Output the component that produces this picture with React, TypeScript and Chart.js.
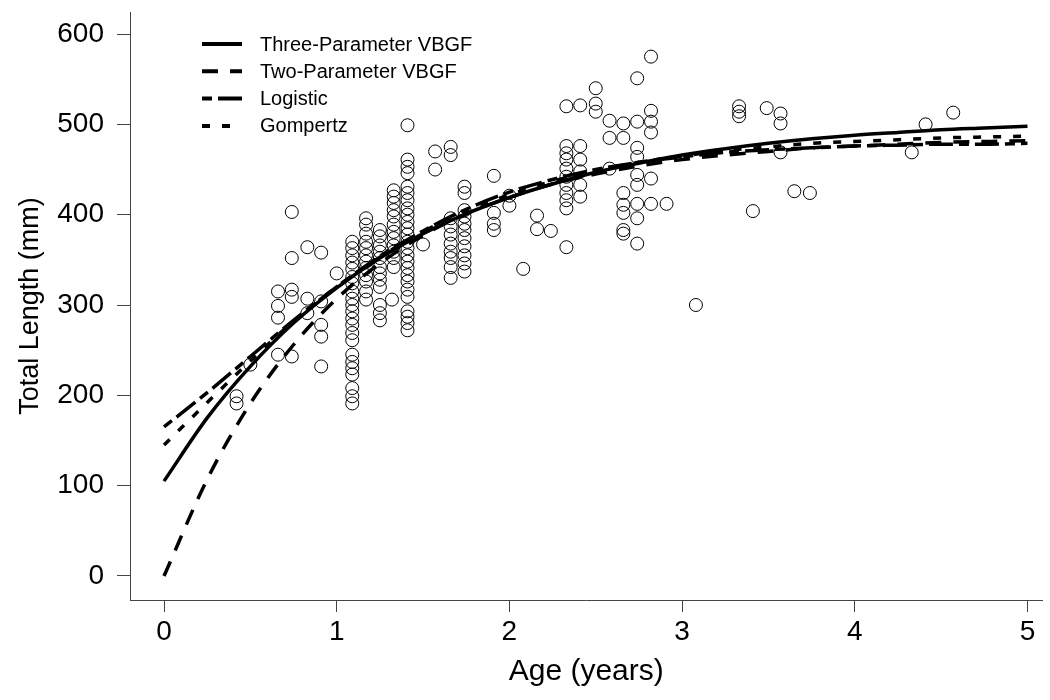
import React, { useEffect, useRef } from 'react';
import { Chart, registerables } from 'chart.js';

Chart.register(...registerables);

// ---- Data ----
const curveAge = [0, 0.25, 0.5, 0.75, 1, 1.25, 1.5, 1.75, 2, 2.25, 2.5, 2.75, 3, 3.25, 3.5, 3.75, 4, 4.25, 4.5, 4.75, 5];
const threeParamVBGF = [105, 175, 232, 280, 319, 352, 379, 401, 419, 434, 447, 457, 466, 473, 479, 484, 488, 491, 494, 496, 498];
const twoParamVBGF = [0, 107, 191, 256, 307, 346, 377, 401, 419, 434, 445, 454, 461, 466, 470, 474, 476, 478, 480, 481, 482];
const logisticFit = [165, 203, 243, 283, 320, 354, 382, 406, 425, 439, 450, 458, 464, 469, 472, 474, 476, 477, 478, 478, 479];
const gompertzFit = [145, 192, 238, 282, 320, 353, 381, 404, 422, 437, 449, 458, 465, 471, 475, 479, 481, 483, 485, 486, 487];

const seriesLabels = ['Three-Parameter VBGF', 'Two-Parameter VBGF', 'Logistic', 'Gompertz'];

// observed fish: age class and the total lengths measured at that age
const ageGroups = [0.42, 0.5, 0.66, 0.74, 0.83, 0.91, 1.0, 1.09, 1.17, 1.25, 1.32, 1.33, 1.41, 1.5, 1.57, 1.66, 1.74, 1.91, 2.0, 2.08, 2.16, 2.24, 2.33, 2.41, 2.5, 2.58, 2.66, 2.74, 2.82, 2.91, 3.08, 3.33, 3.41, 3.49, 3.57, 3.65, 3.74, 4.33, 4.41, 4.57];
const lengthGroups = [
  [199, 191],
  [234],
  [315, 299, 286, 245],
  [403, 352, 317, 309, 243],
  [364, 307, 291],
  [358, 304, 278, 265, 232],
  [335],
  [370, 363, 355, 347, 340, 331, 324, 315, 307, 300, 293, 285, 278, 269, 261, 245, 237, 230, 223, 208, 199, 191],
  [396, 389, 379, 370, 363, 355, 348, 341, 333, 326, 315, 306],
  [383, 376, 366, 359, 352, 342, 335, 328, 320, 300, 291, 283],
  [306],
  [427, 420, 413, 405, 398, 389, 381, 374, 366, 359, 352, 342],
  [499, 461, 453, 446, 431, 424, 416, 407, 400, 392, 385, 378, 370, 363, 355, 348, 341, 333, 326, 317, 309, 293, 287, 280, 272],
  [367],
  [470, 450],
  [475, 466, 396, 387, 378, 368, 359, 352, 342, 330],
  [431, 424, 405, 398, 390, 383, 374, 365, 355, 346, 337],
  [443, 402, 390, 383],
  [421, 410],
  [340],
  [399, 384],
  [382],
  [520, 476, 468, 461, 451, 442, 433, 424, 416, 407, 364],
  [521, 476, 461, 448, 433, 420],
  [540, 523, 514],
  [504, 485, 451],
  [501, 485, 424, 411, 402, 383, 379],
  [551, 503, 474, 464, 444, 433, 412, 396, 368],
  [575, 515, 503, 491, 440, 412],
  [412],
  [300],
  [520, 514, 509],
  [404],
  [518],
  [512, 501, 469],
  [426],
  [424],
  [469],
  [500],
  [513],
];

const xTicks = [0, 1, 2, 3, 4, 5];
const yTicks = [0, 100, 200, 300, 400, 500, 600];

const FONT = '"Liberation Sans", Arial, Helvetica, sans-serif';
const AXIS_COLOR = '#444';

const rLegend = {
  id: 'rLegend',
  afterDatasetsDraw(chart: any) {
    const { ctx, chartArea } = chart;
    const curves = chart.data.datasets.filter((d: any) => d.isCurve);
    ctx.save();
    curves.forEach((ds: any, i: number) => {
      const y = chartArea.top + 32 + i * 27.3;
      const x0 = chartArea.left + 72;
      ctx.beginPath();
      ctx.setLineDash(ds.borderDash || []);
      ctx.lineWidth = 4;
      ctx.lineCap = 'butt';
      ctx.strokeStyle = '#000';
      ctx.moveTo(x0, y);
      ctx.lineTo(x0 + 40, y);
      ctx.stroke();
      ctx.setLineDash([]);
      ctx.fillStyle = '#000';
      ctx.font = `20px ${FONT}`;
      ctx.textBaseline = 'middle';
      ctx.textAlign = 'left';
      ctx.fillText(ds.label, x0 + 58, y + 1);
    });
    ctx.restore();
  },
};

export default function App() {
  const canvasRef = useRef<HTMLCanvasElement | null>(null);

  useEffect(() => {
    if (!canvasRef.current) return;
    const toPts = (vals: number[]) => curveAge.map((t, i) => ({ x: t, y: vals[i] }));
    const obsPoints = ageGroups.flatMap((a, i) => lengthGroups[i].map((l) => ({ x: a, y: l })));
    const curveStyle = (label: string, vals: number[], dash: number[], order: number) => ({
      label,
      data: toPts(vals),
      showLine: true,
      isCurve: true,
      borderColor: '#000',
      borderWidth: 3.5,
      borderDash: dash,
      pointRadius: 0,
      cubicInterpolationMode: 'monotone',
      fill: false,
      order,
    });

    const chart = new Chart(canvasRef.current, {
      type: 'scatter',
      data: {
        datasets: [
          curveStyle(seriesLabels[0], threeParamVBGF, [], 1),
          curveStyle(seriesLabels[1], twoParamVBGF, [16, 12], 2),
          curveStyle(seriesLabels[2], logisticFit, [10, 6, 24, 6], 3),
          curveStyle(seriesLabels[3], gompertzFit, [8, 12], 4),
          {
            label: 'Observed',
            data: obsPoints,
            showLine: false,
            pointRadius: 6.5,
            pointBorderWidth: 1,
            pointBorderColor: '#000',
            pointBackgroundColor: 'rgba(0,0,0,0)',
            borderColor: '#000',
            backgroundColor: 'rgba(0,0,0,0)',
            order: 10,
          } as any,
        ] as any,
      },
      options: {
        animation: false,
        responsive: false,
        devicePixelRatio: 1,
        layout: { padding: { top: 12, right: 2, left: 0, bottom: 0 } },
        plugins: { legend: { display: false }, tooltip: { enabled: false } },
        scales: {
          x: {
            type: 'linear',
            min: -0.197,
            max: 5.087,
            afterFit: (s: any) => { s.height = 100; s.paddingLeft = 0; s.paddingRight = 0; },
            afterBuildTicks: (s: any) => { s.ticks = xTicks.map((v) => ({ value: v })); },
            grid: { drawOnChartArea: false, drawTicks: true, tickLength: 12, color: AXIS_COLOR, lineWidth: 1 },
            border: { display: true, color: AXIS_COLOR, width: 1 },
            ticks: { color: '#000', font: { family: FONT, size: 28 }, padding: 3, autoSkip: false, maxRotation: 0, callback: (v: any) => String(v) },
            title: { display: true, text: 'Age (years)', color: '#000', font: { family: FONT, size: 30 }, padding: { top: 0, bottom: 10 } },
          },
          y: {
            type: 'linear',
            min: -26.6,
            max: 624.4,
            afterFit: (s: any) => { s.width = 130; s.paddingTop = 0; s.paddingBottom = 0; },
            afterBuildTicks: (s: any) => { s.ticks = yTicks.map((v) => ({ value: v })); },
            grid: { drawOnChartArea: false, drawTicks: true, tickLength: 13, color: AXIS_COLOR, lineWidth: 1 },
            border: { display: true, color: AXIS_COLOR, width: 1 },
            ticks: { color: '#000', font: { family: FONT, size: 28 }, padding: 13, autoSkip: false, callback: (v: any) => String(v) },
            title: { display: true, text: 'Total Length (mm)', color: '#000', font: { family: FONT, size: 27 }, padding: { top: 14, bottom: 0 } },
          },
        },
      } as any,
      plugins: [rLegend],
    });
    return () => chart.destroy();
  }, []);

  return (
    <div style={{ position: 'absolute', left: 0, top: 0, width: 1050, height: 700, background: '#fff' }}>
      <canvas ref={canvasRef} width={1050} height={700} style={{ display: 'block' }} />
    </div>
  );
}
